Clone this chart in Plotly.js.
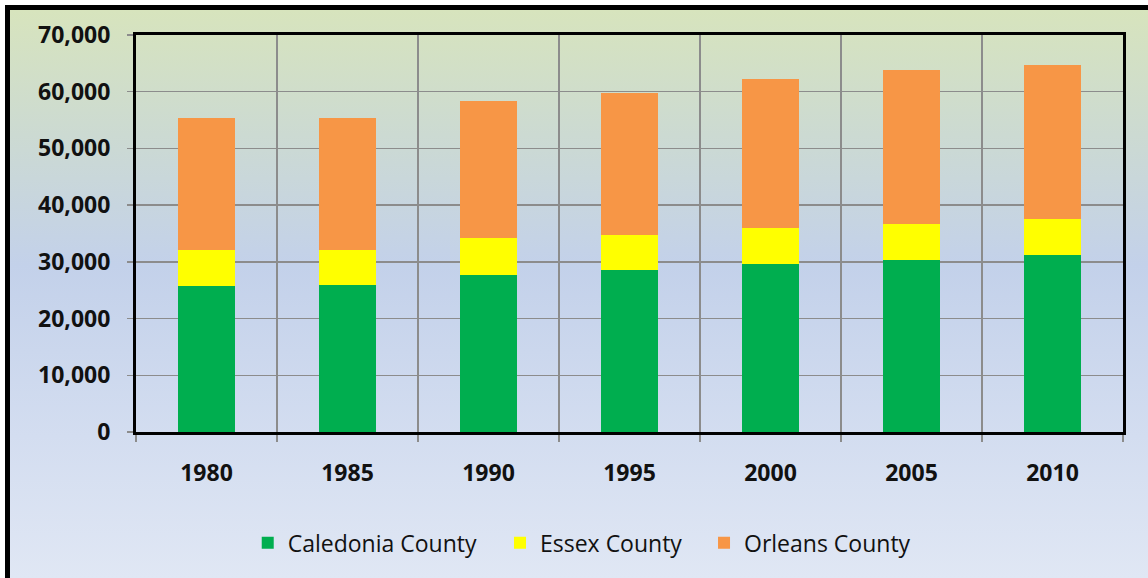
<!DOCTYPE html>
<html>
<head>
<meta charset="utf-8">
<script src="https://cdn.plot.ly/plotly-3.0.1.min.js"></script>
<style>
  html, body { margin: 0; padding: 0; background: #ffffff; width: 1148px; height: 578px; overflow: hidden; }
  #bg { position: absolute; left: 5px; top: 5px; width: 1143px; height: 573px;
        box-sizing: border-box; border-left: 5px solid #000; border-top: 5px solid #000;
        background: linear-gradient(to bottom, #d7e4bd 0%, #ccdad2 22%, #c3d1ea 45%, #d3ddf0 75%, #e0e7f4 100%); }
  #chart { position: absolute; left: 0; top: 0; width: 1148px; height: 578px; }
</style>
</head>
<body>
<div id="bg"></div>
<div id="chart"></div>
<script>
const years = ['1980', '1985', '1990', '1995', '2000', '2005', '2010'];
const caledonia = [25700, 26000, 27700, 28600, 29600, 30300, 31200];
const essex     = [6400, 6100, 6500, 6200, 6400, 6300, 6300];
const orleans   = [23300, 23300, 24200, 25000, 26200, 27200, 27200];
const seriesNames = ['Caledonia County', 'Essex County', 'Orleans County'];
const seriesColors = ['#00ae4f', '#ffff00', '#f79646'];
const yTickVals = [0, 10000, 20000, 30000, 40000, 50000, 60000, 70000];
const yTickText = ['0', '10,000', '20,000', '30,000', '40,000', '50,000', '60,000', '70,000'];

const legendIds = ['legend', 'legend2', 'legend3'];
const allSeries = [caledonia, essex, orleans];
const traces = allSeries.map((vals, i) => ({
  type: 'bar',
  x: years,
  y: vals,
  name: seriesNames[i],
  legend: legendIds[i],
  marker: { color: seriesColors[i], line: { width: 0 } },
  hoverinfo: 'x+y+name'
}));

const legendBase = {
  orientation: 'h',
  xanchor: 'left',
  y: -0.225,
  yanchor: 'top',
  font: { size: 23, family: 'Open Sans, sans-serif', color: '#111' },
  itemwidth: 30,
  bgcolor: 'rgba(0,0,0,0)'
};

const layout = {
  width: 1148,
  height: 578,
  barmode: 'stack',
  bargap: 0.6,
  paper_bgcolor: 'rgba(0,0,0,0)',
  plot_bgcolor: 'rgba(0,0,0,0)',
  margin: { l: 136, r: 25, t: 35, b: 146 },
  font: { family: 'Open Sans, sans-serif', color: '#000' },
  xaxis: {
    type: 'category',
    tickson: 'boundaries',
    showgrid: true,
    gridcolor: '#8c8c8c',
    gridwidth: 1.5,
    ticks: 'outside',
    ticklen: 7,
    tickcolor: '#8c8c8c',
    tickwidth: 1.5,
    showline: true,
    linecolor: '#000',
    linewidth: 3,
    mirror: true,
    tickfont: { size: 23, family: 'Open Sans, sans-serif', weight: 'bold', color: '#111' },
    ticklabelstandoff: 18
  },
  yaxis: {
    range: [0, 70000],
    tickvals: yTickVals,
    ticktext: yTickText,
    showgrid: true,
    gridcolor: '#8c8c8c',
    gridwidth: 1.5,
    zeroline: false,
    ticks: 'outside',
    ticklen: 6,
    tickcolor: '#8c8c8c',
    tickwidth: 1.5,
    showline: true,
    linecolor: '#000',
    linewidth: 3,
    mirror: true,
    tickfont: { size: 23, family: 'Open Sans, sans-serif', weight: 'bold', color: '#111' },
    ticklabelstandoff: 12
  },
  legend: Object.assign({}, legendBase, { x: 0.1132 }),
  legend2: Object.assign({}, legendBase, { x: 0.3688 }),
  legend3: Object.assign({}, legendBase, { x: 0.5755 }),
  showlegend: true
};

Plotly.newPlot('chart', traces, layout, { displayModeBar: false, staticPlot: true });
</script>
</body>
</html>
